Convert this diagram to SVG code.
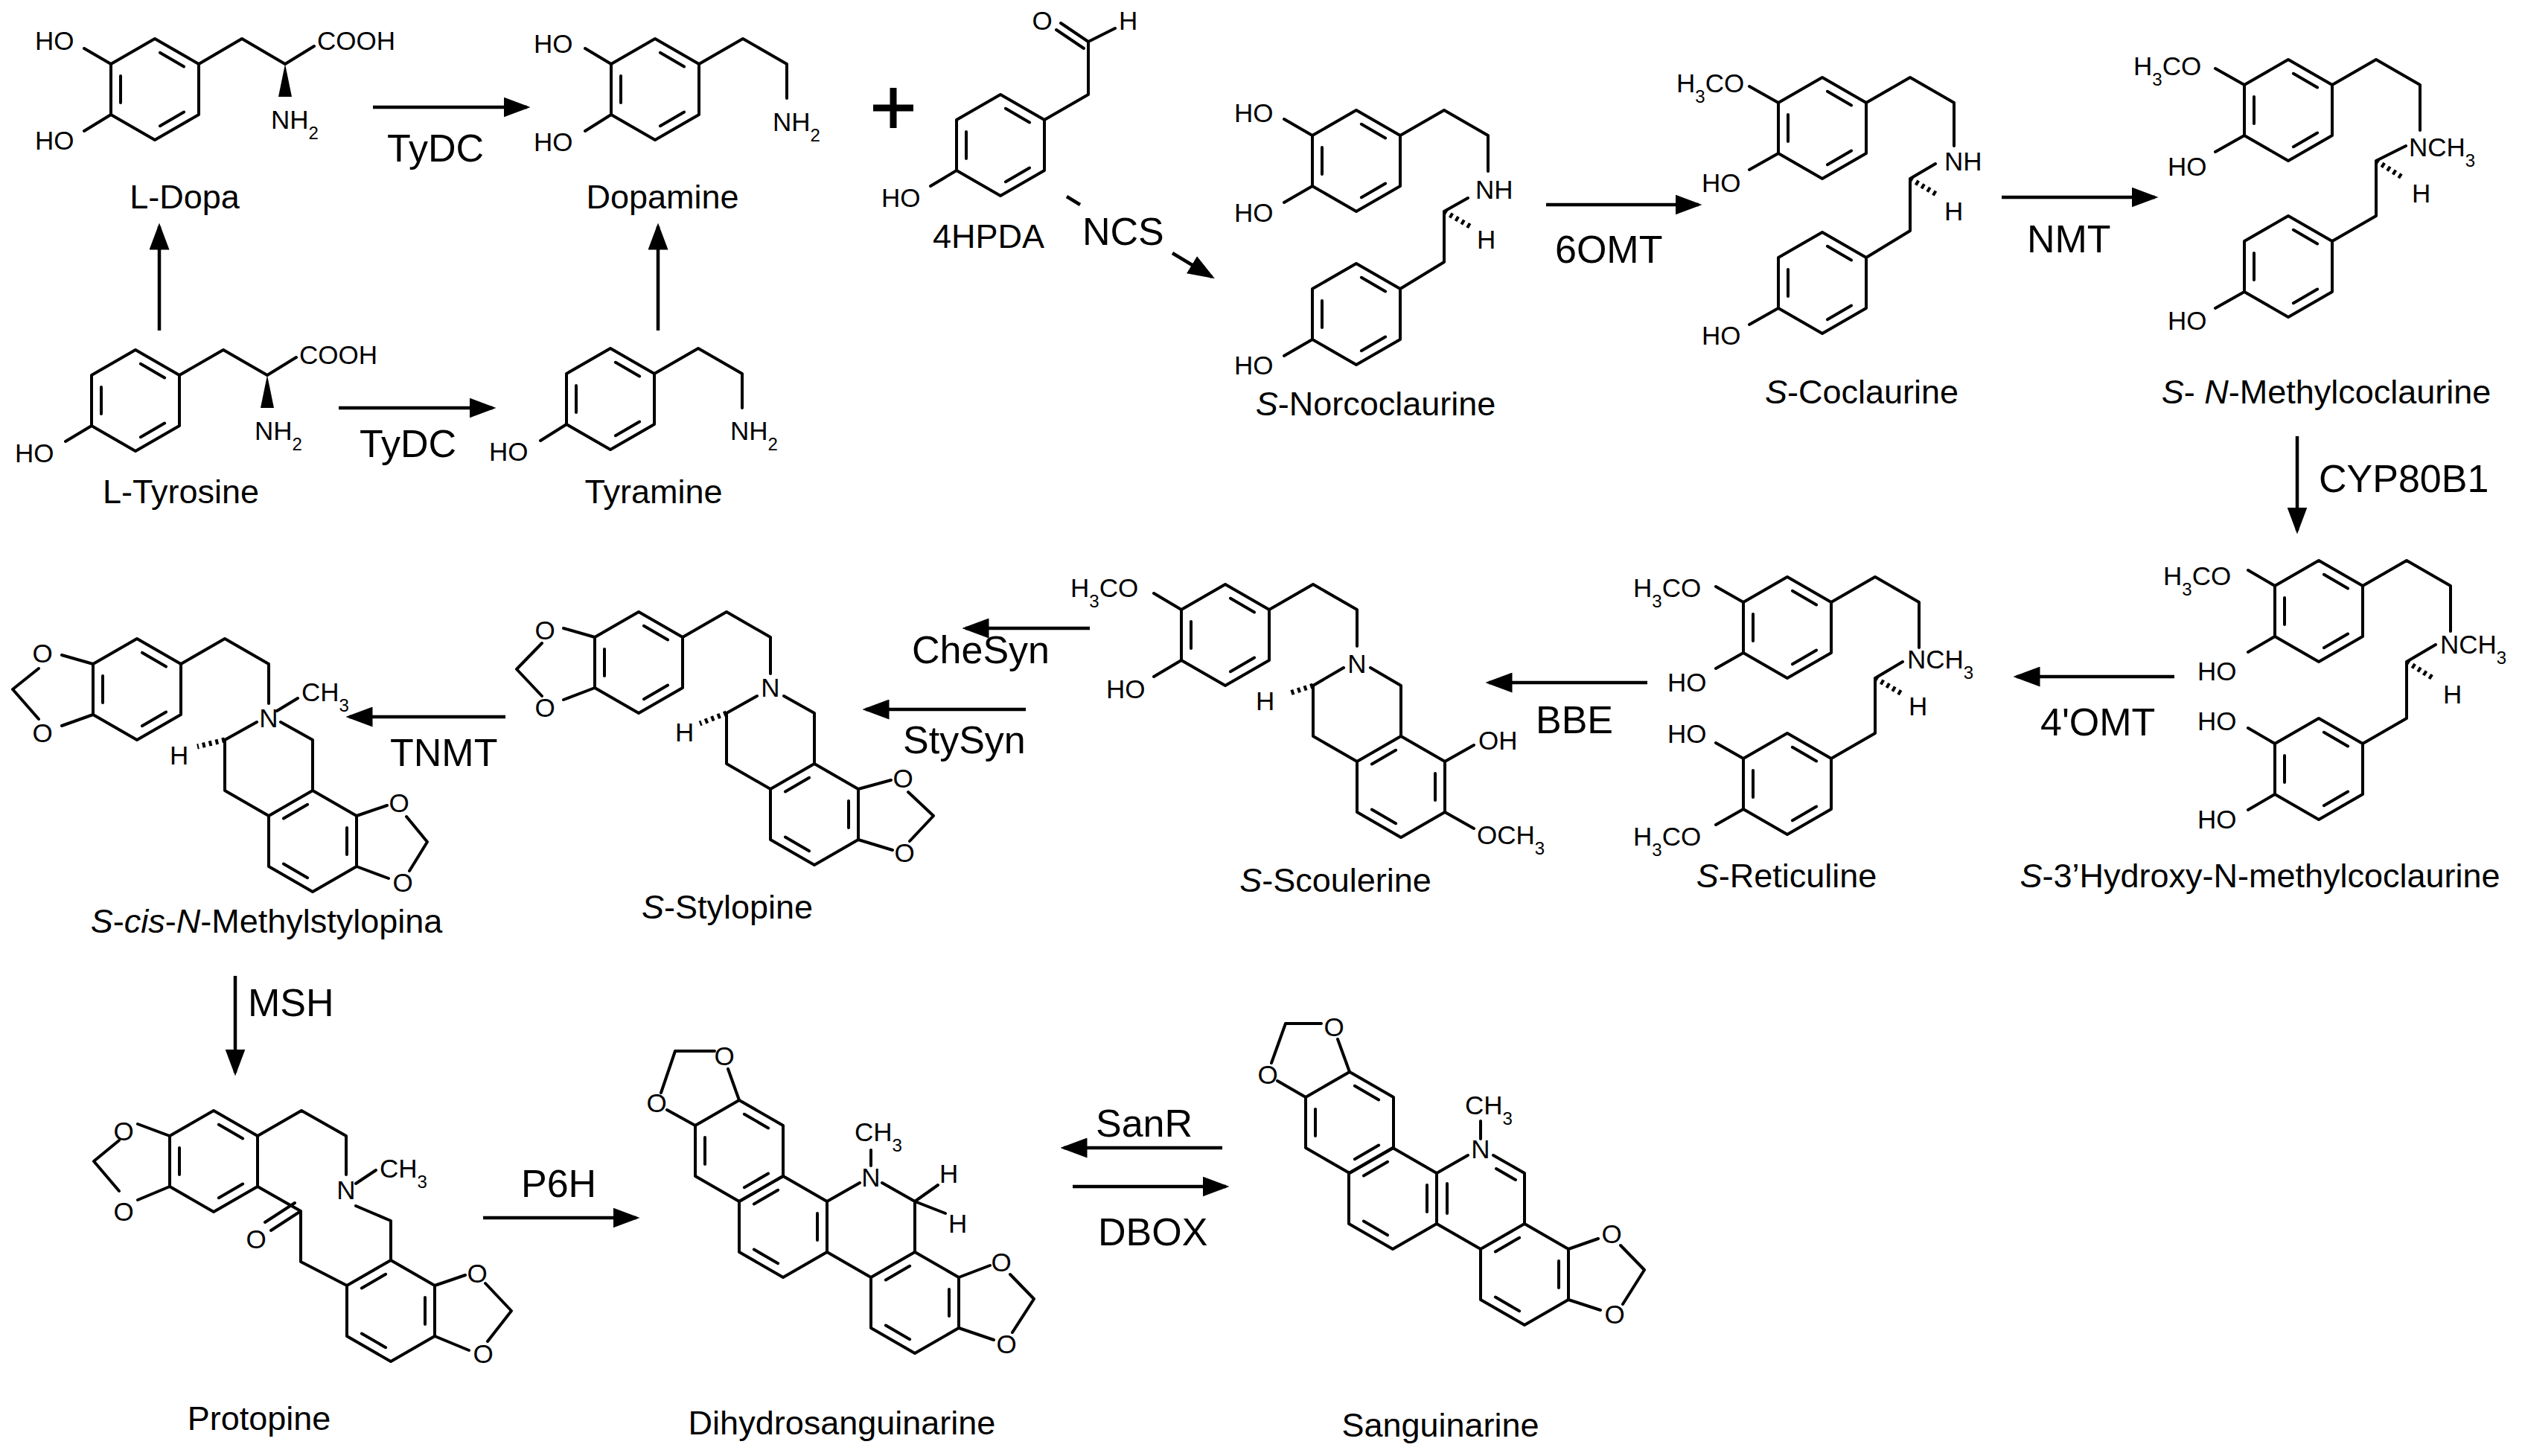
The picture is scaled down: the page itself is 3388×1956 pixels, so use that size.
<svg xmlns="http://www.w3.org/2000/svg" xmlns:xlink="http://www.w3.org/1999/xlink" width="3388" height="1956" viewBox="0 0 3388 1956">
<style>
.b{stroke:#000;stroke-width:4;fill:none;stroke-linecap:round;stroke-linejoin:round}
.h{stroke:#000;stroke-width:7;fill:none;stroke-dasharray:4 5}
.a{stroke:#000;stroke-width:4.5;fill:none}
text{font-family:"Liberation Sans",Arial,sans-serif;fill:#000}
.t{font-size:35px}
.tm{font-size:35px;text-anchor:middle}
.n{font-size:45px;text-anchor:middle}
.e{font-size:52px}
.s{font-size:24px;baseline-shift:sub}
.i{font-style:italic}
</style>
<defs>
<marker id="ah" markerWidth="8" markerHeight="6" refX="7" refY="3" orient="auto" markerUnits="strokeWidth"><path d="M0,0 L8,3 L0,6 z" fill="#000"/></marker>
<g id="hx"><polygon class="b" points="0,-68 59,-34 59,34 0,68 -59,34 -59,-34"/></g>
<g id="bA"><use href="#hx"/><path class="b" d="M46,-18 L46,18 M-6.9,49.2 L-39.1,30.6 M-39.1,-30.6 L-6.9,-49.2"/></g>
<g id="bB"><use href="#hx"/><path class="b" d="M6.9,-49.2 L39.1,-30.6 M39.1,30.6 L6.9,49.2 M-46,18 L-46,-18"/></g>
</defs>
<rect width="3388" height="1956" fill="#fff"/>

<g id="ldopa">
<use href="#bB" x="208" y="120"/>
<path class="b" d="M149,86 L113,65 M149,154 L113,176 M267,86 L325,52 L383,86 L422,62"/>
<polygon points="383,86 374,130 392,130" fill="#000"/>
<text class="t" x="47" y="67">HO</text><text class="t" x="47" y="201">HO</text>
<text class="t" x="426" y="67">COOH</text><text class="t" x="364" y="173">NH<tspan class="s">2</tspan></text>
<text class="n" x="248" y="280">L-Dopa</text>
</g>

<g id="dopamine">
<use href="#bB" x="880" y="120"/>
<path class="b" d="M821,86 L786,65 M821,154 L786,176 M939,86 L998,52 L1057,86 L1057,132"/>
<text class="t" x="717" y="71">HO</text><text class="t" x="717" y="203">HO</text>
<text class="t" x="1038" y="176">NH<tspan class="s">2</tspan></text>
<text class="n" x="890" y="280">Dopamine</text>
</g>

<g id="ltyrosine">
<use href="#bB" x="182" y="538"/>
<path class="b" d="M123,572 L88,593 M241,504 L300,470 L359,504 L398,480"/>
<polygon points="359,504 350,548 368,548" fill="#000"/>
<text class="t" x="20" y="621">HO</text><text class="t" x="402" y="489">COOH</text>
<text class="t" x="342" y="591">NH<tspan class="s">2</tspan></text>
<text class="n" x="243" y="676">L-Tyrosine</text>
</g>

<g id="tyramine">
<use href="#bB" x="820" y="536"/>
<path class="b" d="M761,570 L726,592 M879,502 L938,468 L997,502 L997,548"/>
<text class="t" x="657" y="619">HO</text>
<text class="t" x="981" y="591">NH<tspan class="s">2</tspan></text>
<text class="n" x="878" y="676">Tyramine</text>
</g>

<g id="plus"><path d="M1173,145 L1227,145 M1200,118 L1200,172" stroke="#000" stroke-width="9"/></g>

<g id="hpda">
<use href="#bB" x="1344" y="195"/>
<path class="b" d="M1285,229 L1250,250 M1403,161 L1462,127 L1462,56 L1425,31 M1456,65 L1419,40 M1462,56 L1498,38"/>
<text class="tm" x="1400" y="40">O</text><text class="t" x="1503" y="40">H</text>
<text class="t" x="1184" y="278">HO</text>
<text class="n" x="1328" y="333">4HPDA</text>
</g>

<g id="norcoclaurine">
<use href="#bB" x="1822" y="216"/>
<use href="#bB" x="1822" y="422"/>
<path class="b" d="M1881,182 L1940,148 L1999,182 L1999,230 M1940,284 L1972,266 M1940,284 L1940,352 L1881,388 M1763,182 L1725,160 M1763,250 L1725,272 M1763,456 L1725,478"/>
<path class="h" d="M1940,284 L1978,306"/>
<text class="t" x="1982" y="267">NH</text><text class="t" x="1984" y="334">H</text>
<text class="t" x="1658" y="164">HO</text><text class="t" x="1658" y="298">HO</text><text class="t" x="1658" y="503">HO</text>
<text class="n" x="1848" y="558"><tspan class="i">S</tspan>-Norcoclaurine</text>
</g>

<g id="coclaurine">
<use href="#bB" x="2448" y="172"/>
<use href="#bB" x="2448" y="380"/>
<path class="b" d="M2507,138 L2566,104 L2625,138 L2625,196 M2566,240 L2600,220 M2566,240 L2566,310 L2507,346 M2389,138 L2350,116 M2389,206 L2350,228 M2389,414 L2350,436"/>
<path class="h" d="M2566,240 L2603,262"/>
<text class="t" x="2612" y="229">NH</text><text class="t" x="2612" y="296">H</text>
<text class="t" x="2252" y="124">H<tspan class="s">3</tspan>CO</text>
<text class="t" x="2286" y="258">HO</text><text class="t" x="2286" y="463">HO</text>
<text class="n" x="2501" y="542"><tspan class="i">S</tspan>-Coclaurine</text>
</g>

<g id="methylcoclaurine">
<use href="#bB" x="3074" y="148"/>
<use href="#bB" x="3074" y="358"/>
<path class="b" d="M3133,114 L3192,80 L3251,114 L3251,175 M3192,216 L3232,196 M3192,216 L3192,290 L3133,324 M3015,114 L2976,92 M3015,182 L2976,204 M3015,392 L2976,414"/>
<path class="h" d="M3192,216 L3230,240"/>
<text class="t" x="3236" y="210">NCH<tspan class="s">3</tspan></text><text class="t" x="3240" y="272">H</text>
<text class="t" x="2866" y="101">H<tspan class="s">3</tspan>CO</text>
<text class="t" x="2912" y="236">HO</text><text class="t" x="2912" y="443">HO</text>
<text class="n" x="3125" y="542"><tspan class="i">S</tspan>- <tspan class="i">N</tspan>-Methylcoclaurine</text>
</g>

<g id="hydroxymethylcoclaurine">
<use href="#bB" x="3115" y="821"/>
<use href="#bB" x="3115" y="1033"/>
<path class="b" d="M3174,787 L3233,753 L3292,787 L3292,848 M3233,889 L3272,866 M3233,889 L3233,965 L3174,999 M3056,787 L3020,766 M3056,855 L3020,876 M3056,999 L3020,978 M3056,1067 L3020,1088"/>
<path class="h" d="M3233,889 L3270,912"/>
<text class="t" x="3278" y="878">NCH<tspan class="s">3</tspan></text><text class="t" x="3282" y="945">H</text>
<text class="t" x="2906" y="786">H<tspan class="s">3</tspan>CO</text>
<text class="t" x="2952" y="914">HO</text><text class="t" x="2952" y="981">HO</text><text class="t" x="2952" y="1113">HO</text>
<text class="n" x="3036" y="1192"><tspan class="i">S</tspan>-3’Hydroxy-N-methylcoclaurine</text>
</g>

<g id="reticuline">
<use href="#bB" x="2401" y="843"/>
<use href="#bB" x="2401" y="1053"/>
<path class="b" d="M2460,809 L2519,775 L2578,809 L2578,870 M2519,911 L2556,889 M2519,911 L2519,985 L2460,1019 M2342,809 L2305,788 M2342,877 L2305,898 M2342,1019 L2305,998 M2342,1087 L2305,1108"/>
<path class="h" d="M2519,911 L2555,932"/>
<text class="t" x="2562" y="898">NCH<tspan class="s">3</tspan></text><text class="t" x="2564" y="961">H</text>
<text class="t" x="2194" y="802">H<tspan class="s">3</tspan>CO</text><text class="t" x="2240" y="929">HO</text>
<text class="t" x="2240" y="998">HO</text><text class="t" x="2194" y="1136">H<tspan class="s">3</tspan>CO</text>
<text class="n" x="2400" y="1192"><tspan class="i">S</tspan>-Reticuline</text>
</g>

<g id="scoulerine">
<use href="#bB" x="1646" y="853"/>
<use href="#bA" x="1882" y="1057"/>
<path class="b" d="M1705,819 L1764,785 L1823,819 L1823,868 M1764,921 L1805,897 M1841,897 L1882,921 L1882,989 M1764,921 L1764,989 L1823,1023 M1587,819 L1550,797 M1587,887 L1550,909 M1941,1023 L1980,1001 M1941,1091 L1980,1113"/>
<path class="h" d="M1764,921 L1730,932"/>
<text class="tm" x="1823" y="904">N</text><text class="t" x="1687" y="954">H</text>
<text class="t" x="1438" y="802">H<tspan class="s">3</tspan>CO</text><text class="t" x="1486" y="938">HO</text>
<text class="t" x="1986" y="1007">OH</text><text class="t" x="1984" y="1134">OCH<tspan class="s">3</tspan></text>
<text class="n" x="1794" y="1198"><tspan class="i">S</tspan>-Scoulerine</text>
</g>

<g id="stylopine">
<use href="#bB" x="858" y="890"/>
<use href="#bA" x="1094" y="1094"/>
<path class="b" d="M917,856 L976,822 L1035,856 L1035,905 M976,958 L1017,935 M1053,935 L1094,958 L1094,1026 M976,958 L976,1026 L1035,1060 M799,856 L757,844 M799,924 L757,940 M728,864 L694,899 L728,935 M1153,1060 L1197,1048 M1153,1128 L1199,1142 M1220,1064 L1254,1096 L1222,1130"/>
<path class="h" d="M976,958 L940,972"/>
<text class="tm" x="1035" y="936">N</text><text class="t" x="907" y="996">H</text>
<text class="tm" x="732" y="859">O</text><text class="tm" x="732" y="963">O</text>
<text class="tm" x="1213" y="1058">O</text><text class="tm" x="1215" y="1158">O</text>
<text class="n" x="977" y="1234"><tspan class="i">S</tspan>-Stylopine</text>
</g>

<g id="methylstylopina">
<use href="#bB" x="184" y="926"/>
<use href="#bA" x="420" y="1130"/>
<path class="b" d="M243,892 L302,858 L361,892 L361,945 M302,994 L345,970 M372,955 L400,938 M377,970 L420,994 L420,1062 M302,994 L302,1062 L361,1096 M125,892 L83,880 M125,960 L83,975 M52,898 L17,926 L52,966 M479,1096 L520,1082 M479,1164 L522,1180 M546,1097 L574,1131 L550,1170"/>
<path class="h" d="M302,994 L265,1003"/>
<text class="tm" x="361" y="977">N</text><text class="t" x="405" y="942">CH<tspan class="s">3</tspan></text>
<text class="t" x="228" y="1027">H</text>
<text class="tm" x="57" y="890">O</text><text class="tm" x="57" y="997">O</text>
<text class="tm" x="536" y="1091">O</text><text class="tm" x="541" y="1198">O</text>
<text class="n" x="358" y="1253"><tspan class="i">S</tspan>-<tspan class="i">cis</tspan>-<tspan class="i">N</tspan>-Methylstylopina</text>
</g>

<g id="protopine">
<use href="#bB" x="287" y="1560"/>
<use href="#bA" x="525" y="1761"/>
<path class="b" d="M346,1526 L405,1492 L465,1526 L465,1578 M478,1590 L505,1572 M478,1620 L525,1640 L525,1693 M346,1594 L404,1627 L364,1653 M396,1616 L356,1642 M404,1627 L404,1695 L466,1727 M228,1526 L185,1510 M228,1594 L185,1612 M160,1532 L126,1560 L160,1600 M584,1727 L625,1713 M584,1795 L630,1814 M652,1724 L687,1761 L655,1802"/>
<text class="tm" x="465" y="1611">N</text><text class="t" x="510" y="1582">CH<tspan class="s">3</tspan></text>
<text class="tm" x="344" y="1677">O</text>
<text class="tm" x="166" y="1532">O</text><text class="tm" x="166" y="1640">O</text>
<text class="tm" x="641" y="1723">O</text><text class="tm" x="649" y="1831">O</text>
<text class="n" x="348" y="1921">Protopine</text>
</g>

<g id="dihydrosanguinarine">
<use href="#bB" x="993" y="1546"/>
<use href="#bA" x="1052" y="1648"/>
<use href="#bA" x="1229" y="1750"/>
<path class="b" d="M1111,1614 L1155,1589 M1185,1589 L1229,1614 L1229,1682 M1111,1682 L1170,1716 M1170,1566 L1170,1545 M1229,1614 L1260,1592 M1229,1614 L1270,1630 M993,1478 L978,1436 M934,1512 L896,1491 M907,1412 L960,1412 M907,1412 L888,1468 M1288,1716 L1330,1700 M1288,1784 L1335,1800 M1357,1712 L1389,1745 L1360,1790"/>
<text class="tm" x="1170" y="1594">N</text><text class="t" x="1148" y="1533">CH<tspan class="s">3</tspan></text>
<text class="t" x="1262" y="1589">H</text><text class="t" x="1274" y="1656">H</text>
<text class="tm" x="973" y="1431">O</text><text class="tm" x="882" y="1494">O</text>
<text class="tm" x="1345" y="1708">O</text><text class="tm" x="1352" y="1818">O</text>
<text class="n" x="1131" y="1927">Dihydrosanguinarine</text>
</g>

<g id="sanguinarine">
<use href="#bB" x="1813" y="1508"/>
<use href="#bA" x="1871" y="1610"/>
<use href="#bA" x="2048" y="1712"/>
<path class="b" d="M1930,1576 L1972,1552 M2006,1552 L2048,1576 L2048,1644 M2010,1570 L2036,1585 M1930,1644 L1989,1678 M1944,1590 L1944,1630 M1989,1530 L1989,1506 M1813,1440 L1797,1396 M1754,1474 L1716,1452 M1727,1375 L1775,1375 M1727,1375 L1708,1428 M2107,1678 L2147,1664 M2107,1746 L2150,1760 M2177,1673 L2209,1706 L2180,1752"/>
<text class="tm" x="1989" y="1556">N</text><text class="t" x="1968" y="1497">CH<tspan class="s">3</tspan></text>
<text class="tm" x="1792" y="1392">O</text><text class="tm" x="1703" y="1456">O</text>
<text class="tm" x="2165" y="1670">O</text><text class="tm" x="2169" y="1778">O</text>
<text class="n" x="1935" y="1930">Sanguinarine</text>
</g>

<g id="connectors">
<path class="a" marker-end="url(#ah)" d="M501,144 L708,144"/>
<path class="a" marker-end="url(#ah)" d="M455,548 L662,548"/>
<path class="a" marker-end="url(#ah)" d="M214,444 L214,304"/>
<path class="a" marker-end="url(#ah)" d="M884,444 L884,304"/>
<path class="a" d="M1433,264 L1451,275"/>
<path class="a" marker-end="url(#ah)" d="M1575,340 L1628,372"/>
<path class="a" marker-end="url(#ah)" d="M2077,275 L2282,275"/>
<path class="a" marker-end="url(#ah)" d="M2689,265 L2895,265"/>
<path class="a" marker-end="url(#ah)" d="M3086,586 L3086,713"/>
<path class="a" marker-end="url(#ah)" d="M2921,909 L2709,909"/>
<path class="a" marker-end="url(#ah)" d="M2213,917 L2000,917"/>
<path class="a" marker-end="url(#ah)" d="M1464,844 L1297,844"/>
<path class="a" marker-end="url(#ah)" d="M1378,953 L1163,953"/>
<path class="a" marker-end="url(#ah)" d="M679,963 L469,963"/>
<path class="a" marker-end="url(#ah)" d="M316,1311 L316,1441"/>
<path class="a" marker-end="url(#ah)" d="M649,1636 L855,1636"/>
<path class="a" marker-end="url(#ah)" d="M1642,1542 L1429,1542"/>
<path class="a" marker-end="url(#ah)" d="M1441,1594 L1647,1594"/>
<text class="e" x="520" y="217">TyDC</text>
<text class="e" x="483" y="614">TyDC</text>
<text class="e" x="1454" y="329">NCS</text>
<text class="e" x="2089" y="353">6OMT</text>
<text class="e" x="2723" y="339">NMT</text>
<text class="e" x="3115" y="661">CYP80B1</text>
<text class="e" x="2741" y="988">4'OMT</text>
<text class="e" x="2063" y="985">BBE</text>
<text class="e" x="1225" y="891">CheSyn</text>
<text class="e" x="1213" y="1012">StySyn</text>
<text class="e" x="524" y="1029">TNMT</text>
<text class="e" x="333" y="1365">MSH</text>
<text class="e" x="700" y="1608">P6H</text>
<text class="e" x="1472" y="1527">SanR</text>
<text class="e" x="1475" y="1673">DBOX</text>
</g>
</svg>
